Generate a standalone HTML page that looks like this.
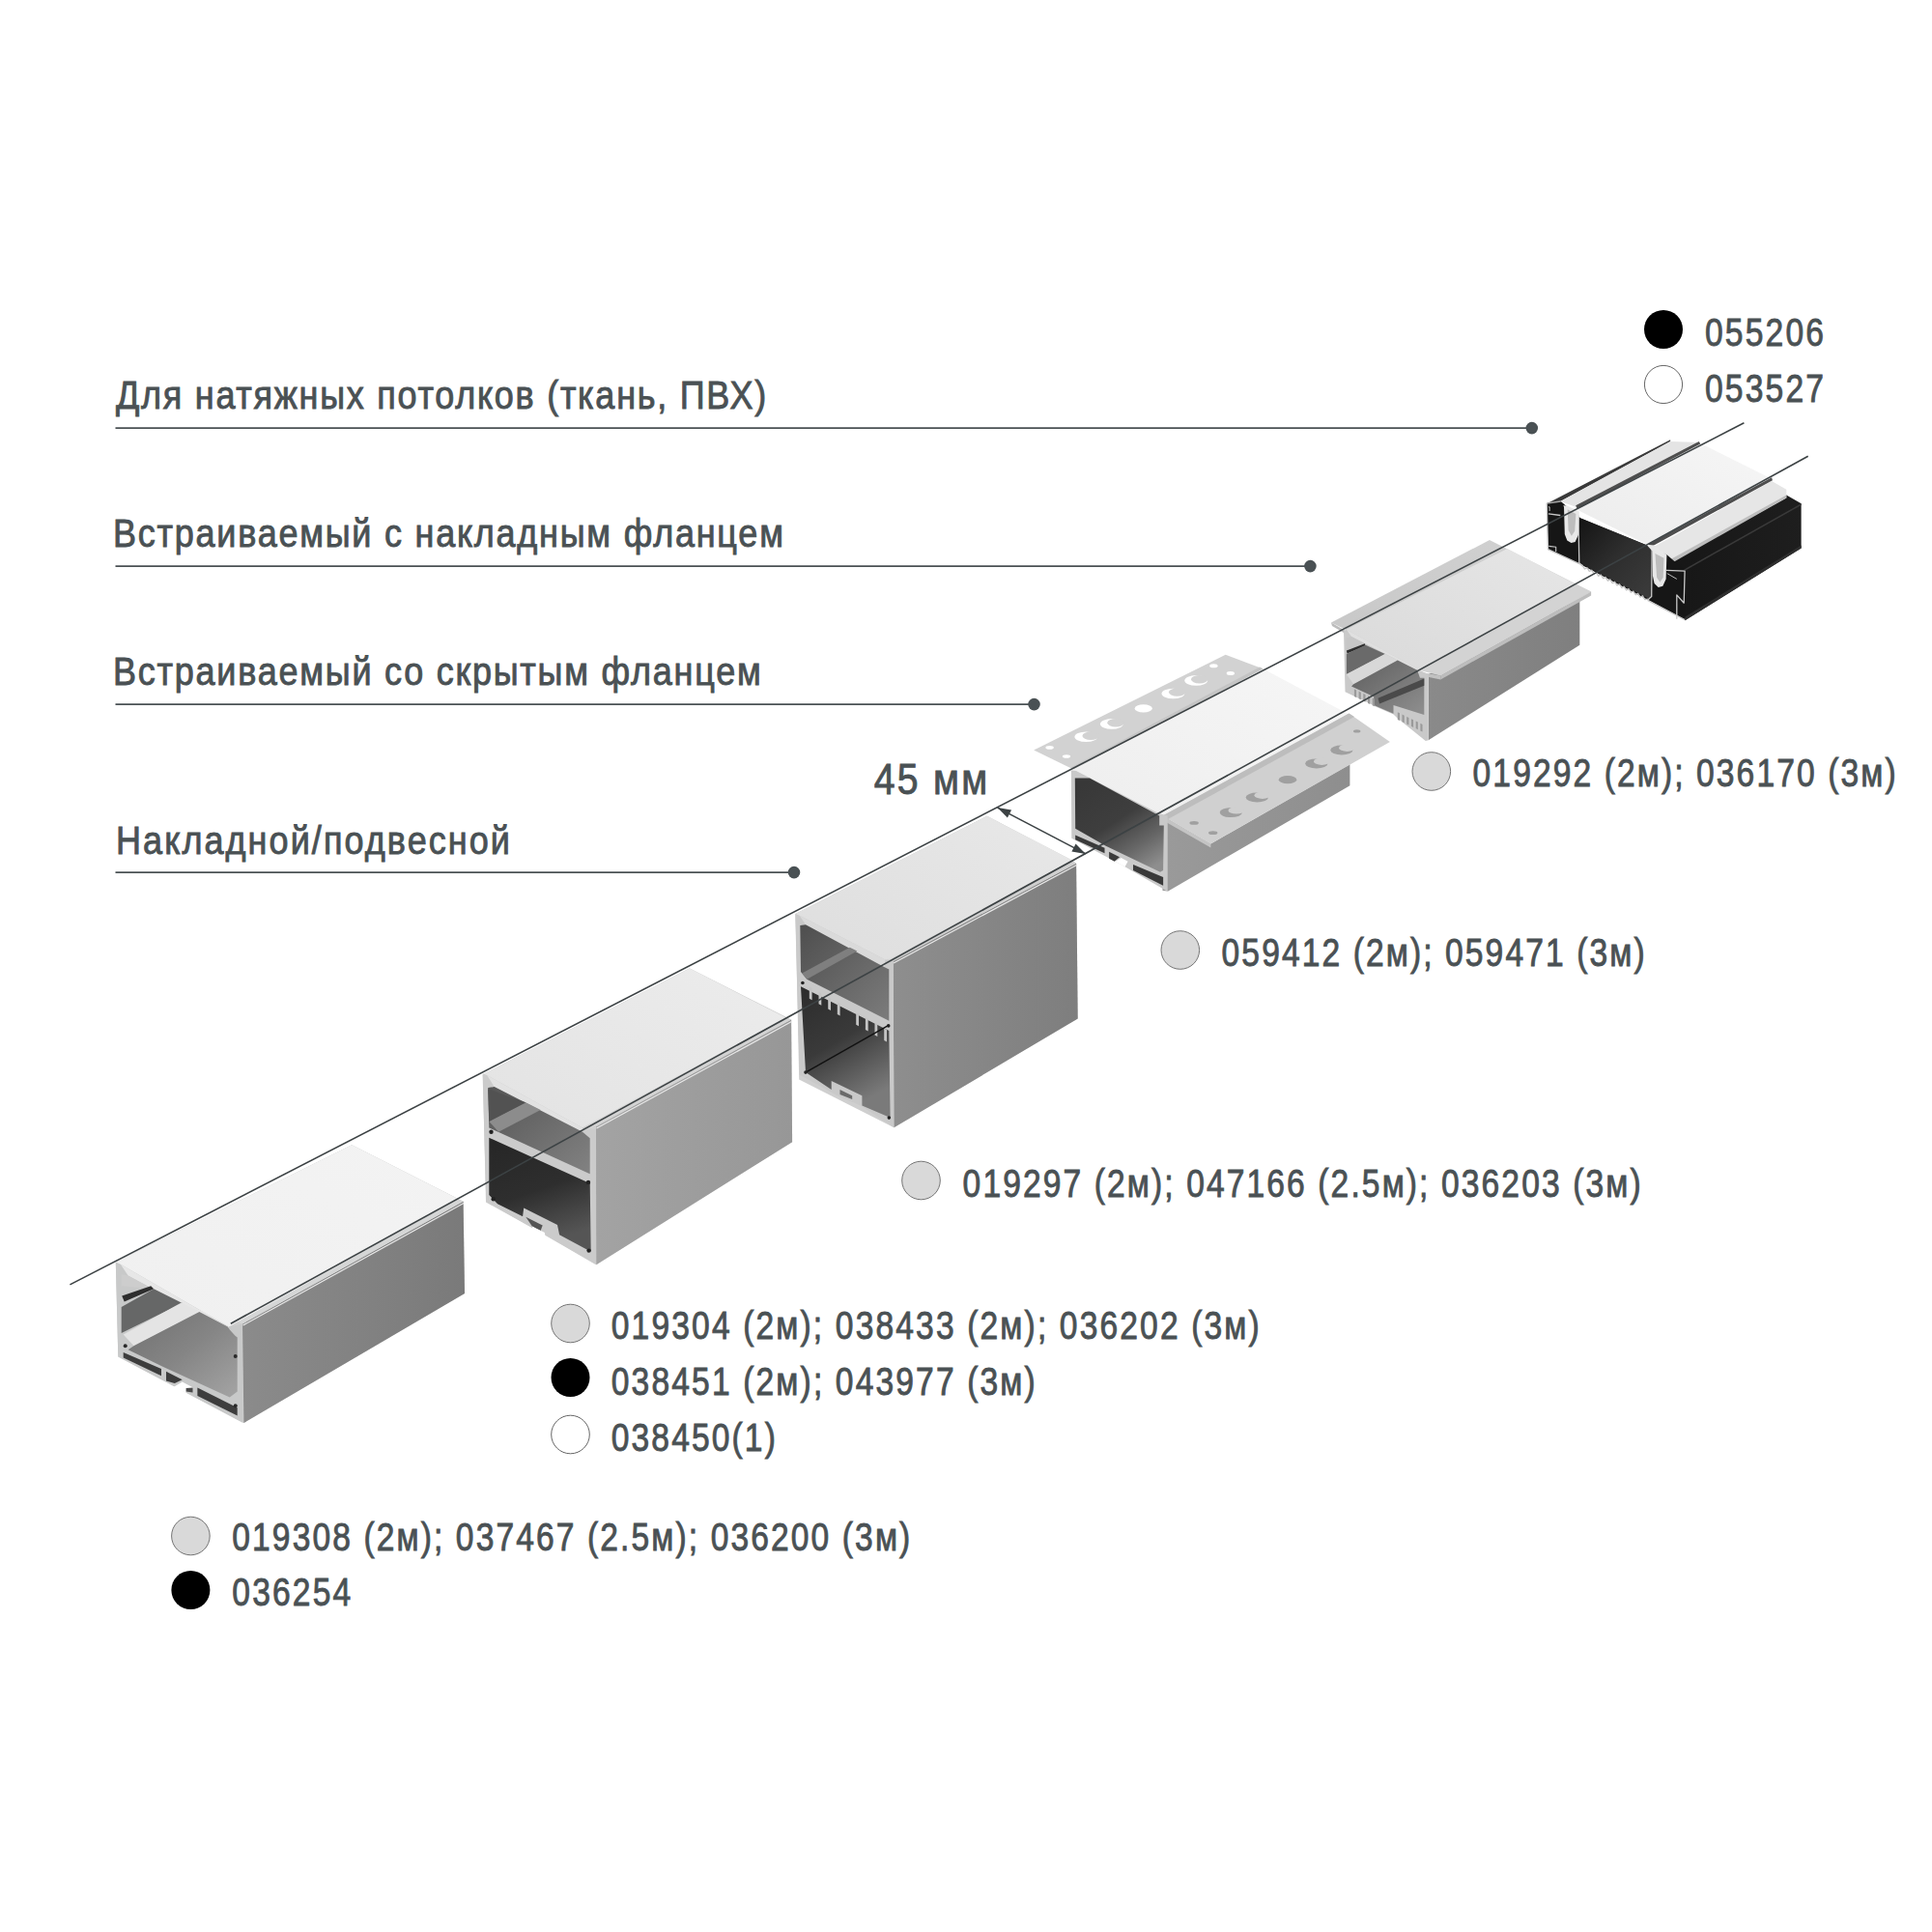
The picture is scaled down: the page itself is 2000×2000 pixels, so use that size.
<!DOCTYPE html>
<html><head><meta charset="utf-8">
<style>
html,body{margin:0;padding:0;background:#fff;width:2000px;height:2000px;overflow:hidden}
svg{position:absolute;left:0;top:0;display:block}
text{font-family:"Liberation Sans",sans-serif;fill:#4a5154;stroke:#4a5154;stroke-width:0.9px}
</style></head><body>
<svg width="2000" height="2000" viewBox="0 0 2000 2000">
<defs>
<linearGradient id="lens" x1="0" y1="0" x2="1" y2="1"><stop offset="0" stop-color="#e6e7e7"/><stop offset="1" stop-color="#f1f1f1"/></linearGradient>
<linearGradient id="side" x1="0" y1="0" x2="1" y2="0"><stop offset="0" stop-color="#8e8e8e"/><stop offset="1" stop-color="#7b7b7b"/></linearGradient>
</defs>
<rect width="2000" height="2000" fill="#fff"/>

<!-- category labels -->
<g id="labels">
<text transform="translate(120,423) scale(0.9,1)" font-size="40" textLength="748" lengthAdjust="spacing">Для натяжных потолков (ткань, ПВХ)</text>
<text transform="translate(117,565.6) scale(0.9,1)" font-size="40" textLength="771" lengthAdjust="spacing">Встраиваемый с накладным фланцем</text>
<text transform="translate(117,709.4) scale(0.9,1)" font-size="40" textLength="745.3" lengthAdjust="spacing">Встраиваемый со скрытым фланцем</text>
<text transform="translate(120,884) scale(0.9,1)" font-size="40" textLength="453.3" lengthAdjust="spacing">Накладной/подвесной</text>
<g stroke="#4a5154" stroke-width="1.8">
<line x1="119.5" y1="443.1" x2="1586" y2="443.1"/>
<line x1="119.5" y1="586.1" x2="1356" y2="586.1"/>
<line x1="119.5" y1="729.1" x2="1070" y2="729.1"/>
<line x1="119.5" y1="903.1" x2="822" y2="903.1"/>
</g>
<g fill="#4a5154">
<circle cx="1585.8" cy="443.1" r="6.3"/>
<circle cx="1356.4" cy="586.1" r="6.3"/>
<circle cx="1070.5" cy="729.1" r="6.3"/>
<circle cx="822" cy="903.1" r="6.3"/>
</g>
</g>

<!-- products -->
<g id="products">
<defs><linearGradient id="p1side" x1="0" y1="0" x2="1" y2="0"><stop offset="0" stop-color="#8b8b8b"/><stop offset="1" stop-color="#7a7a7a"/></linearGradient><linearGradient id="p1lens" x1="0" y1="1" x2="1" y2="0"><stop offset="0" stop-color="#f0f0f0"/><stop offset="1" stop-color="#f3f3f3"/></linearGradient><linearGradient id="p1int" x1="0" y1="0" x2="1" y2="1"><stop offset="0" stop-color="#707070"/><stop offset="0.5" stop-color="#858585"/><stop offset="1" stop-color="#a4a4a4"/></linearGradient><linearGradient id="p2side" x1="0" y1="0" x2="1" y2="0"><stop offset="0" stop-color="#a3a3a3"/><stop offset="1" stop-color="#979797"/></linearGradient><linearGradient id="p2lens" x1="0" y1="1" x2="1" y2="0"><stop offset="0" stop-color="#e3e3e3"/><stop offset="1" stop-color="#ececec"/></linearGradient><linearGradient id="p2up" x1="0" y1="0" x2="1" y2="1"><stop offset="0" stop-color="#555555"/><stop offset="1" stop-color="#828282"/></linearGradient><linearGradient id="p2low" x1="0" y1="0" x2="0.3" y2="1"><stop offset="0" stop-color="#262626"/><stop offset="0.55" stop-color="#2e2e2e"/><stop offset="1" stop-color="#555555"/></linearGradient><linearGradient id="p3side" x1="0" y1="0" x2="1" y2="0"><stop offset="0" stop-color="#8e8e8e"/><stop offset="1" stop-color="#7e7e7e"/></linearGradient><linearGradient id="p3lens" x1="0" y1="1" x2="1" y2="0"><stop offset="0" stop-color="#dedede"/><stop offset="1" stop-color="#e8e8e8"/></linearGradient><linearGradient id="p3up" x1="0" y1="0" x2="1" y2="1"><stop offset="0" stop-color="#4e4e4e"/><stop offset="1" stop-color="#7c7c7c"/></linearGradient><linearGradient id="p3low" x1="0" y1="0" x2="0.4" y2="1"><stop offset="0" stop-color="#2c2c2c"/><stop offset="0.5" stop-color="#3a3a3a"/><stop offset="1" stop-color="#7a7a7a"/></linearGradient><linearGradient id="p4side" x1="0" y1="0" x2="1" y2="0"><stop offset="0" stop-color="#9a9a9a"/><stop offset="1" stop-color="#8e8e8e"/></linearGradient><linearGradient id="p4lens" x1="0" y1="1" x2="1" y2="0"><stop offset="0" stop-color="#eeeeee"/><stop offset="1" stop-color="#f6f6f6"/></linearGradient><linearGradient id="p4int" x1="0.2" y1="0" x2="0.8" y2="1"><stop offset="0" stop-color="#383838"/><stop offset="0.45" stop-color="#3e3e3e"/><stop offset="0.75" stop-color="#666666"/><stop offset="1" stop-color="#8e8e8e"/></linearGradient><linearGradient id="p5side" x1="0" y1="0" x2="1" y2="0"><stop offset="0" stop-color="#8a8a8a"/><stop offset="1" stop-color="#7f7f7f"/></linearGradient><linearGradient id="p5flange" x1="0" y1="1" x2="1" y2="0"><stop offset="0" stop-color="#c6c6c6"/><stop offset="1" stop-color="#d2d2d2"/></linearGradient><linearGradient id="p5lens" x1="0" y1="1" x2="1" y2="0"><stop offset="0" stop-color="#dadada"/><stop offset="1" stop-color="#e6e6e6"/></linearGradient><linearGradient id="p5int" x1="0" y1="0" x2="1" y2="1"><stop offset="0" stop-color="#5e5e5e"/><stop offset="1" stop-color="#8f8f8f"/></linearGradient><linearGradient id="p6side" x1="0" y1="0" x2="1" y2="0"><stop offset="0" stop-color="#161616"/><stop offset="1" stop-color="#1e1e1e"/></linearGradient><linearGradient id="p6lens" x1="0" y1="1" x2="1" y2="0"><stop offset="0" stop-color="#ececec"/><stop offset="1" stop-color="#f6f6f6"/></linearGradient><linearGradient id="p6int" x1="0" y1="0" x2="1" y2="1"><stop offset="0" stop-color="#141414"/><stop offset="0.5" stop-color="#2e2e2e"/><stop offset="1" stop-color="#3c3c3c"/></linearGradient></defs>
<g id="p1"><polygon points="119.8,1306.5 364.2,1185.2 479.6,1243.7 481.0,1339.0 252.4,1473.0 122.3,1404.6" fill="#cfcfcf" /><polygon points="251.0,1370.5 479.6,1243.7 481.0,1339.0 252.4,1473.0" fill="url(#p1side)" /><polygon points="119.8,1306.5 364.2,1185.2 474.0,1241.0 479.6,1243.7 251.0,1370.5" fill="#d5d6d6" /><polygon points="119.8,1306.5 364.2,1185.2 474.0,1241.0 236.8,1373.6" fill="url(#p1lens)" /><polygon points="119.8,1306.7 124.8,1308.7 236.9,1373.6 250.6,1370.6 251.6,1472.9 122.3,1404.6" fill="#c8c9c9" /><polygon points="124.8,1308.7 236.9,1373.6 236.9,1376.5 132.6,1320.5" fill="#e7e7e7" /><polygon points="125.7,1319.5 132.6,1320.5 236.9,1376.5 237.8,1376.5 159.2,1334.3 125.7,1331.3" fill="#cdcdcd" /><polygon points="126.2,1341.6 156.2,1331.3 159.2,1334.3 128.7,1347.5" fill="#2e2e2e" /><polygon points="125.7,1352.9 159.2,1334.3 188.7,1349.0 125.7,1380.0" fill="#666767" /><polygon points="127.7,1381.5 187.7,1348.5 207.4,1357.9 138.5,1393.3" fill="#e4e4e4" /><polygon points="138.5,1393.3 206.4,1357.9 235.9,1373.6 237.8,1376.5 243.7,1382.9 245.7,1384.4 245.7,1440.5 237.8,1446.4 169.0,1414.9 132.6,1397.2" fill="url(#p1int)" /><polygon points="127.7,1400.1 167.0,1416.9 167.0,1424.2 127.7,1405.6" fill="#3d3d3d" /><polygon points="172.0,1419.8 188.7,1428.2 180.8,1432.1 172.0,1429.6" fill="#3d3d3d" /><polygon points="204.4,1436.5 245.7,1457.2 245.7,1465.5 204.4,1444.9" fill="#3d3d3d" /><polygon points="179.8,1435.7 188.7,1430.6 200.0,1436.5 192.6,1439.5 192.6,1441.9" fill="#ffffff" /><polygon points="192.6,1437.0 199.5,1436.5 199.5,1441.4 192.6,1440.5" fill="#4a4a4a" /><circle cx="129.7" cy="1393.3" r="2" fill="#2a2a2a"/><circle cx="243.7" cy="1404.1" r="2" fill="#2a2a2a"/><circle cx="243.7" cy="1455.2" r="2" fill="#2a2a2a"/><line x1="251.5" y1="1372.0" x2="480.0" y2="1245.5" stroke="#e9e9e9" stroke-width="1.2"/></g>
<g id="p2"><polygon points="499.6,1112.3 713.9,1002.4 819.1,1055.5 820.1,1182.2 617.2,1309.2 503.3,1243.7" fill="#cfcfcf" /><polygon points="617.0,1166.3 819.1,1055.5 820.1,1182.2 617.2,1309.2" fill="url(#p2side)" /><polygon points="499.6,1112.3 713.9,1002.4 813.5,1053.6 819.1,1055.5 617.0,1166.3" fill="#d3d3d3" /><polygon points="499.6,1112.3 713.9,1002.4 813.5,1053.6 603.0,1167.4" fill="url(#p2lens)" /><polygon points="499.8,1111.4 504.1,1113.0 603.0,1167.4 616.6,1169.6 617.2,1309.2 566.1,1279.3 503.0,1244.6" fill="#cbcbcb" /><polygon points="504.1,1113.0 603.0,1167.4 603.0,1171.7 511.7,1125.0" fill="#e2e2e2" /><polygon points="505.2,1126.1 511.7,1125.0 603.0,1171.7 610.7,1178.3 610.7,1215.2 506.3,1167.4" fill="url(#p2up)" /><polygon points="506.3,1160.9 544.3,1141.3 559.6,1148.9 516.1,1171.7" fill="#8c8c8c" /><polygon points="505.2,1127.2 544.3,1141.3 506.3,1160.9" fill="#525252" /><polygon points="506.3,1177.7 610.7,1225.0 611.7,1295.7 579.1,1278.3 577.0,1267.9 542.2,1250.5 541.1,1259.2 515.0,1246.2 506.3,1237.0" fill="url(#p2low)" /><polygon points="544.3,1259.8 561.7,1268.5 559.6,1273.9 550.9,1269.6" fill="#555555" /><polygon points="550.9,1269.6 563.9,1276.1 565.0,1284.8 552.0,1278.3" fill="#ffffff" /><circle cx="508.5" cy="1171.7" r="2.2" fill="#222"/><circle cx="510.7" cy="1241.3" r="2.2" fill="#222"/><circle cx="609.0" cy="1223.9" r="2.2" fill="#222"/><circle cx="609.6" cy="1294.6" r="2.2" fill="#222"/><line x1="617.5" y1="1168.0" x2="819.5" y2="1057.5" stroke="#e9e9e9" stroke-width="1.2"/></g>
<g id="p3"><polygon points="823.5,945.9 1021.7,844.8 1114.1,893.7 1115.7,1054.6 925.4,1167.2 827.2,1117.6" fill="#cfcfcf" /><polygon points="924.7,995.0 1114.1,893.7 1115.7,1054.6 925.4,1167.2" fill="url(#p3side)" /><polygon points="823.5,945.9 1021.7,844.8 1109.8,890.4 1114.1,893.7 924.7,995.0" fill="#cfcfcf" /><polygon points="823.5,945.9 1021.7,844.8 1109.8,890.4 916.0,996.0" fill="url(#p3lens)" /><polygon points="823.2,945.9 827.7,947.8 916.5,993.4 924.7,993.4 925.4,1167.2 892.4,1145.6 883.5,1141.2 869.5,1135.5 827.7,1112.7" fill="#c9c9c9" /><polygon points="827.7,947.8 916.5,993.4 915.2,1001.0 834.0,957.3" fill="#dadada" /><polygon points="828.3,957.9 834.0,957.3 915.2,1001.0 920.3,1003.6 920.3,1056.8 835.3,1013.7 829.0,1006.1" fill="url(#p3up)" /><polygon points="830.2,1007.4 879.7,980.7 887.3,984.5 835.3,1013.7" fill="#7f7f7f" /><polygon points="829.0,1021.3 920.3,1067.0 921.6,1157.1 892.4,1144.4 892.4,1134.2 860.7,1119.0 860.7,1127.9 834.0,1110.1" fill="url(#p3low)" /><polygon points="837.8,1021.3 840.6,1022.9 840.6,1035.3 837.8,1033.8" fill="#c4c4c4" /><polygon points="847.5,1026.7 850.3,1028.2 850.3,1040.7 847.5,1039.2" fill="#c4c4c4" /><polygon points="857.2,1032.1 860.0,1033.6 860.0,1046.1 857.2,1044.5" fill="#c4c4c4" /><polygon points="866.8,1037.5 869.6,1039.0 869.6,1051.5 866.8,1049.9" fill="#c4c4c4" /><polygon points="886.2,1048.3 889.0,1049.8 889.0,1062.2 886.2,1060.7" fill="#c4c4c4" /><polygon points="895.9,1053.7 898.7,1055.2 898.7,1067.6 895.9,1066.1" fill="#c4c4c4" /><polygon points="905.5,1059.1 908.3,1060.6 908.3,1073.0 905.5,1071.5" fill="#c4c4c4" /><polygon points="915.2,1064.5 918.0,1066.0 918.0,1078.4 915.2,1076.9" fill="#c4c4c4" /><polygon points="869.5,1127.9 882.2,1134.2 882.2,1138.0 869.5,1133.0" fill="#6a6a6a" /><line x1="834.0" y1="1110.1" x2="919.0" y2="1061.9" stroke="#111" stroke-width="1.4"/><circle cx="830.9" cy="1017.5" r="1.8" fill="#222"/><circle cx="919.7" cy="1061.9" r="1.8" fill="#222"/><circle cx="834.0" cy="1110.1" r="1.8" fill="#222"/><circle cx="920.3" cy="1157.1" r="1.8" fill="#222"/><line x1="925.0" y1="997.0" x2="1114.5" y2="895.5" stroke="#e9e9e9" stroke-width="1.2"/></g>
<g id="p4"><polygon points="1070.2,776.5 1268.7,677.7 1307.8,692.6 1112.2,797.0" fill="#d2d2d2" /><polygon points="1109.0,794.5 1304.0,690.5 1307.8,692.6 1112.2,797.0" fill="#c4c4c4" /><ellipse cx="1086.6" cy="773.9" rx="4.2" ry="1.8" fill="#ffffff"/><ellipse cx="1104.0" cy="783.0" rx="4.2" ry="1.8" fill="#ffffff"/><ellipse cx="1124.3" cy="762.7" rx="11.9" ry="5.3" fill="#ffffff"/><ellipse cx="1150.8" cy="749.4" rx="11.9" ry="5.3" fill="#ffffff"/><ellipse cx="1183.7" cy="733.4" rx="9.1" ry="4.2" fill="#ffffff"/><ellipse cx="1214.4" cy="718.0" rx="11.9" ry="5.3" fill="#ffffff"/><ellipse cx="1238.2" cy="704.4" rx="11.9" ry="5.3" fill="#ffffff"/><ellipse cx="1256.4" cy="689.3" rx="4.2" ry="2.0" fill="#ffffff"/><ellipse cx="1273.8" cy="697.0" rx="4.2" ry="2.0" fill="#ffffff"/><ellipse cx="1129.2" cy="761.7" rx="8.7" ry="4.2" fill="#d2d2d2"/><ellipse cx="1155.0" cy="748.3" rx="8.7" ry="4.2" fill="#d2d2d2"/><ellipse cx="1218.6" cy="716.6" rx="8.7" ry="4.2" fill="#d2d2d2"/><ellipse cx="1241.7" cy="703.3" rx="8.7" ry="4.2" fill="#d2d2d2"/><polygon points="1109.0,797.5 1307.8,692.6 1397.3,740.1 1203.5,844.5" fill="url(#p4lens)" /><polygon points="1203.5,844.5 1253.4,873.4 1397.4,791.3 1397.4,813.2 1209.3,922.5 1203.5,922.0" fill="url(#p4side)" /><polygon points="1203.5,844.5 1253.4,873.4 1253.4,877.5 1203.5,849.0" fill="#c4c4c4" /><polygon points="1203.5,844.5 1396.5,738.6 1438.9,768.0 1253.4,873.4" fill="#d0d0d0" /><polygon points="1203.5,844.5 1396.5,738.6 1402.0,742.0 1209.0,848.0" fill="#bdbdbd" /><ellipse cx="1236.1" cy="851.9" rx="4.7" ry="1.9" fill="#a0a0a0"/><ellipse cx="1255.7" cy="862.2" rx="4.7" ry="1.9" fill="#a0a0a0"/><ellipse cx="1274.3" cy="841.1" rx="11.6" ry="5.0" fill="#a0a0a0"/><ellipse cx="1301.3" cy="825.5" rx="11.6" ry="5.0" fill="#a0a0a0"/><ellipse cx="1333.0" cy="807.2" rx="9.3" ry="4.1" fill="#a0a0a0"/><ellipse cx="1362.8" cy="790.4" rx="11.6" ry="5.0" fill="#a0a0a0"/><ellipse cx="1388.9" cy="776.5" rx="11.6" ry="5.0" fill="#a0a0a0"/><ellipse cx="1404.7" cy="756.9" rx="3.7" ry="1.7" fill="#a0a0a0"/><ellipse cx="1279.9" cy="838.9" rx="8.4" ry="3.7" fill="#d0d0d0"/><ellipse cx="1306.9" cy="823.2" rx="8.4" ry="3.7" fill="#d0d0d0"/><ellipse cx="1368.4" cy="788.2" rx="8.4" ry="3.7" fill="#d0d0d0"/><ellipse cx="1394.5" cy="774.2" rx="8.4" ry="3.7" fill="#d0d0d0"/><polygon points="1108.9,797.5 1114.0,797.9 1199.4,842.1 1208.7,844.5 1208.7,922.9 1207.2,922.1 1164.5,897.3 1160.6,894.9 1154.4,891.8 1109.3,867.8" fill="#c9c9c9" /><polygon points="1112.8,805.6 1128.0,805.6 1200.2,844.5 1200.2,854.6 1204.8,854.6 1204.1,901.1 1201.0,902.7 1144.3,875.5 1113.2,857.7" fill="url(#p4int)" /><polygon points="1113.2,864.6 1143.5,877.8 1143.5,883.3 1113.2,869.3" fill="#3a3a3a" /><polygon points="1148.1,881.7 1159.0,887.2 1153.6,891.8 1148.1,888.7" fill="#3a3a3a" /><polygon points="1173.0,894.9 1204.1,908.1 1204.1,916.7 1173.0,901.1" fill="#3a3a3a" /><polygon points="1154.4,891.8 1160.6,887.9 1167.6,891.8 1164.5,897.3" fill="#ffffff" /></g>
<g id="p5"><polygon points="1478.7,698.1 1635.3,619.7 1635.3,667.7 1478.7,766.2" fill="url(#p5side)" /><polygon points="1378.0,644.5 1542.0,559.0 1647.1,612.5 1491.3,699.4" fill="url(#p5flange)" /><polygon points="1393.4,651.8 1560.4,568.0 1631.8,605.2 1468.7,693.7" fill="url(#p5lens)" /><polygon points="1468.7,693.7 1631.8,605.2 1647.1,612.5 1491.3,699.4" fill="#d3d3d3" /><polygon points="1378.0,644.5 1393.5,653.2 1393.5,656.5 1379.0,648.0" fill="#bcbcbc" /><polygon points="1469.6,695.8 1491.3,699.4 1491.3,703.5 1469.6,699.0" fill="#c2c2c2" /><polygon points="1491.3,699.4 1647.1,612.5 1647.1,616.5 1491.3,703.5" fill="#bdbdbd" /><polygon points="1391.0,653.2 1393.9,651.7 1469.3,693.8 1478.7,698.1 1478.7,766.2 1475.8,767.0 1446.1,743.0 1442.5,739.4 1422.2,730.7 1420.0,729.3 1392.5,716.2" fill="#c9c9c9" /><polygon points="1393.9,651.7 1469.3,693.8 1470.0,695.2 1399.0,659.0" fill="#e0e0e0" /><polygon points="1393.2,660.4 1399.0,659.0 1433.8,677.1 1393.9,677.1" fill="#c6c6c6" /><polygon points="1393.9,673.5 1412.8,666.2 1413.5,668.4 1394.6,676.4" fill="#2e2e2e" /><polygon points="1393.9,677.1 1413.5,667.7 1433.8,677.1 1393.9,698.1" fill="#6a6a6a" /><polygon points="1393.9,698.1 1433.8,677.1 1446.8,683.6 1401.2,708.3" fill="#d8d8d8" /><polygon points="1401.2,708.3 1446.8,683.6 1467.1,693.8 1470.0,701.7 1474.3,701.7 1474.3,740.1 1442.5,730.0 1442.5,738.7 1422.2,730.0 1422.2,721.3 1399.0,710.4" fill="url(#p5int)" /><polygon points="1426.5,722.8 1474.3,702.5 1474.3,709.7 1428.0,728.6" fill="#4a4a4a" /><polygon points="1401.9,713.3 1404.1,714.4 1404.1,722.0 1401.9,720.9" fill="#9a9a9a" /><polygon points="1406.6,715.7 1408.8,716.7 1408.8,724.3 1406.6,723.3" fill="#9a9a9a" /><polygon points="1411.3,718.0 1413.5,719.1 1413.5,726.7 1411.3,725.6" fill="#9a9a9a" /><polygon points="1416.0,720.3 1418.2,721.4 1418.2,729.0 1416.0,727.9" fill="#9a9a9a" /><polygon points="1420.7,722.6 1422.9,723.7 1422.9,731.3 1420.7,730.2" fill="#9a9a9a" /><polygon points="1446.8,737.2 1449.0,738.3 1449.0,745.9 1446.8,744.9" fill="#9a9a9a" /><polygon points="1451.5,739.6 1453.7,740.7 1453.7,748.3 1451.5,747.2" fill="#9a9a9a" /><polygon points="1456.2,741.9 1458.4,743.0 1458.4,750.6 1456.2,749.5" fill="#9a9a9a" /><polygon points="1460.9,744.2 1463.1,745.3 1463.1,752.9 1460.9,751.8" fill="#9a9a9a" /><polygon points="1465.7,746.5 1467.8,747.6 1467.8,755.2 1465.7,754.1" fill="#9a9a9a" /><polygon points="1470.4,748.8 1472.5,749.9 1472.5,757.5 1470.4,756.4" fill="#9a9a9a" /></g>
<g id="p6"><polygon points="1725.4,581.3 1849.3,512.5 1864.6,521.2 1864.6,567.5 1744.3,642.2 1739.9,591.4" fill="url(#p6side)" /><polygon points="1739.9,591.4 1864.6,521.2 1864.6,522.9 1739.9,593.2" fill="#3a3a3a" /><polygon points="1744.3,638.6 1864.6,564.6 1864.6,567.5 1744.3,642.2" fill="#2e2e2e" /><polygon points="1709.5,567.5 1834.1,498.0 1849.3,506.7 1849.3,515.4 1725.4,583.5" fill="#e6e6e6" /><polygon points="1725.4,581.3 1849.3,512.5 1849.3,515.4 1726.9,584.9" fill="#bdbdbd" /><polygon points="1631.2,527.0 1760.2,458.8 1834.1,495.8 1706.6,564.6" fill="url(#p6lens)" /><polygon points="1601.5,521.2 1729.1,455.2 1729.1,457.1 1615.3,519.0 1615.3,527.0 1601.5,528.4" fill="#3a3a3a" /><polygon points="1615.3,519.0 1729.1,457.1 1759.5,458.1 1631.2,524.8" fill="#e4e4e4" /><polygon points="1631.2,523.3 1758.8,457.1 1760.2,459.6 1632.7,527.0" fill="#4e4e4e" /><polygon points="1706.6,563.2 1834.1,494.3 1834.9,497.2 1708.0,566.8" fill="#4e4e4e" /><polygon points="1601.2,521.1 1615.7,519.0 1636.4,536.4 1705.1,564.6 1725.8,574.5 1744.1,590.3 1744.1,641.6 1706.0,620.9 1634.8,583.6 1602.5,568.7" fill="#161616" /><polygon points="1636.4,536.4 1705.1,564.6 1709.7,567.9 1709.3,617.6 1706.0,619.3 1638.1,584.5 1635.2,579.5" fill="url(#p6int)" /><polyline points="1634.8,583.2 1638.1,585.3 1640.5,589.0 1642.9,587.7 1645.3,591.5 1647.6,590.2 1650.0,593.9 1652.4,592.6 1654.8,596.3 1657.2,595.0 1659.6,598.7 1662.0,597.4 1664.4,601.2 1666.8,599.9 1669.2,603.6 1671.6,602.3 1674.0,606.0 1676.4,604.7 1678.8,608.4 1681.2,607.1 1683.6,610.9 1686.0,609.6 1688.4,613.3 1690.8,612.0 1693.2,615.7 1695.6,614.4 1698.0,618.1 1700.4,616.8 1702.8,620.6 1706.0,620.1" fill="none" stroke="#c4c4c4" stroke-width="1.3" stroke-linejoin="round"/><polyline points="1601.2,521.1 1615.7,519.0" fill="none" stroke="#a8a8a8" stroke-width="1.3" stroke-linejoin="round"/><polyline points="1601.2,521.1 1602.5,568.7 1634.8,583.6" fill="none" stroke="#c8c8c8" stroke-width="1.3" stroke-linejoin="round"/><polyline points="1603.3,565.4 1610.7,566.3 1610.7,571.2" fill="none" stroke="#c8c8c8" stroke-width="1.1" stroke-linejoin="round"/><polyline points="1602.9,531.9 1615.3,533.5" fill="none" stroke="#c8c8c8" stroke-width="1.3" stroke-linejoin="round"/><polyline points="1602.9,524.8 1604.1,524.8 1604.1,529.0" fill="none" stroke="#bdbdbd" stroke-width="1.0" stroke-linejoin="round"/><polyline points="1633.9,533.1 1634.8,582.8 1638.1,586.1" fill="none" stroke="#c8c8c8" stroke-width="1.3" stroke-linejoin="round"/><polyline points="1710.1,568.7 1709.7,617.6 1706.8,620.1 1706.0,621.7 1744.1,641.6" fill="none" stroke="#c8c8c8" stroke-width="1.3" stroke-linejoin="round"/><polyline points="1725.0,590.3 1744.1,591.1 1743.2,624.2 1735.8,615.9 1735.8,640.8" fill="none" stroke="#c8c8c8" stroke-width="1.3" stroke-linejoin="round"/><polyline points="1725.8,593.6 1735.8,599.4" fill="none" stroke="#bdbdbd" stroke-width="1.0" stroke-linejoin="round"/><polygon points="1618.2,523.2 1622.3,523.6 1634.8,529.4 1633.9,553.8 1630.6,560.9 1626.5,562.1 1622.3,559.6 1619.8,553.0 1619.0,524.8" fill="#e8e8e8" /><polygon points="1622.7,527.3 1631.4,531.9 1630.2,549.7 1626.9,554.7 1623.6,548.9" fill="#bdbdbd" /><polygon points="1704.3,563.8 1712.6,564.6 1725.4,574.5 1724.6,599.4 1721.3,606.8 1716.7,608.1 1712.6,603.9 1710.9,596.1 1710.5,570.4" fill="#e8e8e8" /><polygon points="1713.4,572.9 1722.5,577.8 1721.7,597.7 1718.4,602.7 1715.1,597.7" fill="#bdbdbd" /></g>
<line x1="1032.6" y1="836.1" x2="1123.9" y2="883.9" stroke="#3c4244" stroke-width="1.6"/><polygon points="1032.6,836.1 1042.9,846.6 1047.1,838.6" fill="#3c4244" /><polygon points="1123.9,883.9 1109.4,881.4 1113.6,873.4" fill="#3c4244" />
</g>

<!-- dimension lines -->
<g stroke="#3c4244" stroke-width="1.6" fill="none">
<line x1="72.4" y1="1329.9" x2="1805.4" y2="437.8"/>
<line x1="238.8" y1="1370.2" x2="1871.7" y2="472.2"/>
</g>

<!-- codes -->
<g id="codes">
<circle cx="1722" cy="341" r="20" fill="#000"/>
<circle cx="1722" cy="398" r="19.6" fill="#fff" stroke="#555" stroke-width="0.9"/>
<text transform="translate(1765,357.6) scale(0.84,1)" font-size="40" textLength="146.4" lengthAdjust="spacing">055206</text>
<text transform="translate(1765,415.7) scale(0.84,1)" font-size="40" textLength="146.4" lengthAdjust="spacing">053527</text>

<circle cx="1481.8" cy="798.5" r="19.8" fill="#d9d9d9" stroke="#666" stroke-width="0.9"/>
<text transform="translate(1524.6,814.4) scale(0.84,1)" font-size="40" textLength="521.4" lengthAdjust="spacing">019292 (2м); 036170 (3м)</text>

<circle cx="1221.8" cy="983.5" r="19.8" fill="#d9d9d9" stroke="#666" stroke-width="0.9"/>
<text transform="translate(1264.6,1000) scale(0.84,1)" font-size="40" textLength="521.4" lengthAdjust="spacing">059412 (2м); 059471 (3м)</text>

<circle cx="953.5" cy="1222" r="19.8" fill="#d9d9d9" stroke="#666" stroke-width="0.9"/>
<text transform="translate(996.6,1238.9) scale(0.84,1)" font-size="40" textLength="835.7" lengthAdjust="spacing">019297 (2м); 047166 (2.5м); 036203 (3м)</text>

<circle cx="590.5" cy="1370" r="19.8" fill="#d9d9d9" stroke="#666" stroke-width="0.9"/>
<text transform="translate(632.8,1385.5) scale(0.84,1)" font-size="40" textLength="798.8" lengthAdjust="spacing">019304 (2м); 038433 (2м); 036202 (3м)</text>
<circle cx="590.5" cy="1426" r="20" fill="#000"/>
<text transform="translate(632.8,1444.2) scale(0.84,1)" font-size="40" textLength="522.6" lengthAdjust="spacing">038451 (2м); 043977 (3м)</text>
<circle cx="590.5" cy="1485" r="19.8" fill="#fff" stroke="#555" stroke-width="0.9"/>
<text transform="translate(632.8,1502) scale(0.84,1)" font-size="40" textLength="202.4" lengthAdjust="spacing">038450(1)</text>

<circle cx="197.4" cy="1590" r="19.8" fill="#d9d9d9" stroke="#666" stroke-width="0.9"/>
<text transform="translate(240.3,1605) scale(0.84,1)" font-size="40" textLength="835.7" lengthAdjust="spacing">019308 (2м); 037467 (2.5м); 036200 (3м)</text>
<circle cx="197.4" cy="1646" r="20" fill="#000"/>
<text transform="translate(240.3,1662.2) scale(0.84,1)" font-size="40" textLength="146.4" lengthAdjust="spacing">036254</text>

<text transform="translate(904.8,822.2) scale(0.9,1)" font-size="43.5" textLength="130.5" lengthAdjust="spacing">45 мм</text>
</g>
</svg>
</body></html>
